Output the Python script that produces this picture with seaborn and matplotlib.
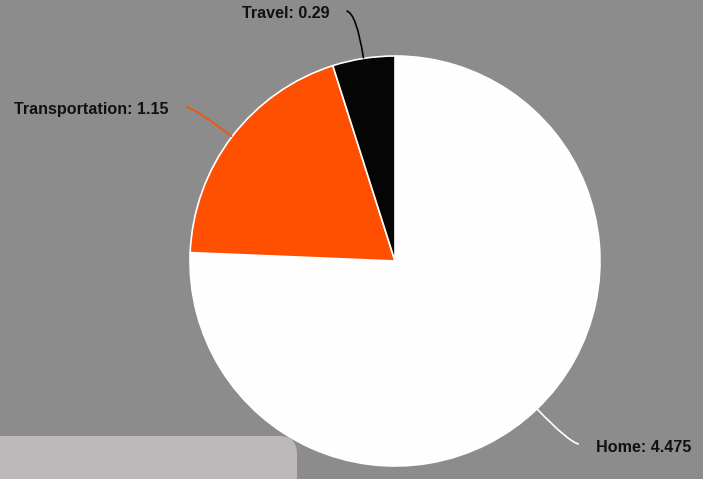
import numpy as np
import matplotlib
matplotlib.use("Agg")
import matplotlib.pyplot as plt
import seaborn as sns
from matplotlib.path import Path
from matplotlib.patches import PathPatch, FancyBboxPatch

# data
categories = ["Home", "Transportation", "Travel"]
values = [4.475, 1.15, 0.29]
colors = ["#fefefe", "#ff4f00", "#050505"]

BG = "#8c8c8c"
W, H = 703, 479

sns.set_theme(style="white", rc={"figure.facecolor": BG, "axes.facecolor": BG})
plt.rcParams["font.family"] = ["Liberation Sans", "DejaVu Sans"]

fig = plt.figure(figsize=(W / 100, H / 100), dpi=100)
ax = fig.add_axes([0, 0, 1, 1])

cx, cy, r = 395, H - 261, 205
wedges, _ = ax.pie(values, colors=colors, startangle=90, counterclock=False,
                   center=(cx, cy), radius=r, frame=True,
                   wedgeprops=dict(edgecolor="white", linewidth=1.2))
ax.set_xlim(0, W)
ax.set_ylim(0, H)
ax.set_aspect("equal")
ax.axis("off")

# labels with curved connectors
for w, name, val, col in zip(wedges, categories, values, colors):
    mid = np.deg2rad((w.theta1 + w.theta2) / 2)
    d = np.array([np.cos(mid), np.sin(mid)])
    p0 = np.array([cx, cy]) + r * d
    ctrl = np.array([cx, cy]) + (r + 46) * d
    side = 1 if d[0] >= 0 else -1
    end = ctrl + np.array([side * 10, 2 if d[1] > 0 else -2])
    path = Path([p0, ctrl, end], [Path.MOVETO, Path.CURVE3, Path.CURVE3])
    lc = "white" if col.lower() in ("#fefefe", "#ffffff") else col
    ax.add_patch(PathPatch(path, fc="none", ec=lc, lw=1.2, zorder=3))
    ax.text(end[0] + side * 17, end[1] - 3, f"{name}: {val}",
            ha="left" if side > 0 else "right", va="center",
            fontsize=11.6, fontweight="bold", color="#111111", zorder=4)

# light overlay box at the bottom-left
box = FancyBboxPatch((-30, -30), 327, H - 436 + 30, boxstyle="round,pad=0,rounding_size=18",
                     fc="#bdb9bb", ec="none", zorder=5)
ax.add_patch(box)

fig.savefig("out.png", dpi=100, facecolor=BG)
